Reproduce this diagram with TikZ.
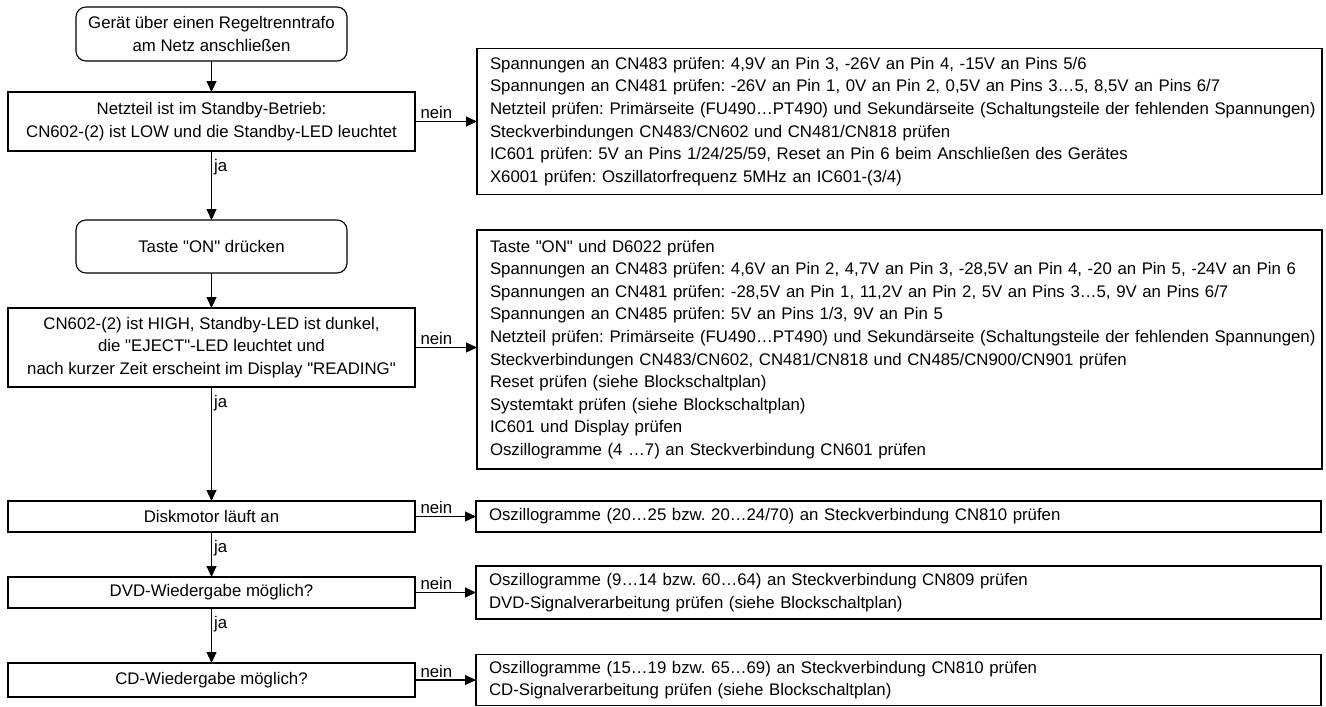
\documentclass[tikz,border=0pt]{standalone}
\usepackage{fontspec}
\setmainfont{Liberation Sans}
\usetikzlibrary{arrows.meta,positioning}
\newcommand{\qd}[1]{\textquotedbl#1\textquotedbl}
\frenchspacing

\begin{document}
\begin{tikzpicture}[x=1pt, y=-1pt,
  box/.style={draw, line width=1.1pt, outer sep=0pt, align=center,
    font=\fontsize{16.8}{22.6}\selectfont},
  stepbox/.style={box, minimum width=407pt},
  termbox/.style={box, rounded corners=10pt, minimum width=271pt},
  todo/.style={box, align=left, text width=819pt, inner xsep=13pt},
  lab/.style={font=\fontsize{16.8}{22.6}\selectfont, inner sep=2pt},
  ja/.style={lab, pos=0, anchor=north west, yshift=-6pt},
  nein/.style={lab, pos=0, anchor=south west, xshift=3pt},
  flow/.style={-{Triangle[length=11pt,width=10pt]}, line width=1.1pt}]

  \useasboundingbox (0,0) rectangle (1326,707);

  % left column
  \node[termbox, minimum height=54pt] (start) at (211.5,34)
    {Gerät über einen Regeltrenntrafo\\am Netz anschließen};
  \node[stepbox, minimum height=59pt, below=31pt of start] (netz)
    {Netzteil ist im Standby-Betrieb:\\CN602-(2) ist LOW und die Standby-LED leuchtet};
  \node[termbox, minimum height=53pt, below=69pt of netz] (taste) {Taste \qd{ON} drücken};
  \node[stepbox, minimum height=79pt, below=35pt of taste] (hell)
    {CN602-(2) ist HIGH, Standby-LED ist dunkel,\\die \qd{EJECT}-LED leuchtet und\\nach kurzer Zeit erscheint im Display \qd{READING}};
  \node[stepbox, minimum height=31pt, below=114pt of hell] (disk) {Diskmotor läuft an};
  \node[stepbox, minimum height=31pt, below=45pt of disk] (dvd) {DVD-Wiedergabe möglich?};
  \node[stepbox, minimum height=34pt, below=55pt of dvd] (cd) {CD-Wiedergabe möglich?};

  % right column
  \node[todo, minimum height=146pt, right=62pt of netz] (chk1)
    {Spannungen an CN483 prüfen: 4,9V an Pin 3, -26V an Pin 4, -15V an Pins 5/6\\
     Spannungen an CN481 prüfen: -26V an Pin 1, 0V an Pin 2, 0,5V an Pins 3…5, 8,5V an Pins 6/7\\
     \mbox{Netzteil prüfen: Primärseite (FU490…PT490) und Sekundärseite (Schaltungsteile der fehlenden Spannungen)}\\
     Steckverbindungen CN483/CN602 und CN481/CN818 prüfen\\
     IC601 prüfen: 5V an Pins 1/24/25/59, Reset an Pin 6 beim Anschließen des Gerätes\\
     X6001 prüfen: Oszillatorfrequenz 5MHz an IC601-(3/4)};
  \node[todo, minimum height=239pt, right=62pt of hell, yshift=-2pt] (chk2)
    {Taste \qd{ON} und D6022 prüfen\\
     Spannungen an CN483 prüfen: 4,6V an Pin 2, 4,7V an Pin 3, -28,5V an Pin 4, -20 an Pin 5, -24V an Pin 6\\
     Spannungen an CN481 prüfen: -28,5V an Pin 1, 11,2V an Pin 2, 5V an Pins 3…5, 9V an Pins 6/7\\
     Spannungen an CN485 prüfen: 5V an Pins 1/3, 9V an Pin 5\\
     \mbox{Netzteil prüfen: Primärseite (FU490…PT490) und Sekundärseite (Schaltungsteile der fehlenden Spannungen)}\\
     Steckverbindungen CN483/CN602, CN481/CN818 und CN485/CN900/CN901 prüfen\\
     Reset prüfen (siehe Blockschaltplan)\\
     Systemtakt prüfen (siehe Blockschaltplan)\\
     IC601 und Display prüfen\\
     Oszillogramme (4 …7) an Steckverbindung CN601 prüfen};
  \node[todo, minimum height=31pt, right=61pt of disk] (chk3)
    {Oszillogramme (20…25 bzw. 20…24/70) an Steckverbindung CN810 prüfen};
  \node[todo, minimum height=53pt, right=61pt of dvd] (chk4)
    {Oszillogramme (9…14 bzw. 60…64) an Steckverbindung CN809 prüfen\\
     DVD-Signalverarbeitung prüfen (siehe Blockschaltplan)};
  \node[todo, minimum height=51pt, right=61pt of cd] (chk5)
    {Oszillogramme (15…19 bzw. 65…69) an Steckverbindung CN810 prüfen\\
     CD-Signalverarbeitung prüfen (siehe Blockschaltplan)};

  % ja
  \draw[flow] (start) -- (netz);
  \draw[flow] (netz) -- node[ja]{ja} (taste);
  \draw[flow] (taste) -- (hell);
  \draw[flow] (hell) -- node[ja]{ja} (disk);
  \draw[flow] (disk) -- node[ja]{ja} (dvd);
  \draw[flow] (dvd) -- node[ja]{ja} (cd);

  % nein
  \draw[flow] (netz) -- node[nein]{nein} (netz -| chk1.west);
  \draw[flow] (hell) -- node[nein]{nein} (hell -| chk2.west);
  \draw[flow] (disk) -- node[nein]{nein} (chk3);
  \draw[flow] (dvd) -- node[nein]{nein} (chk4);
  \draw[flow] (cd) -- node[nein]{nein} (chk5);
\end{tikzpicture}
\end{document}
